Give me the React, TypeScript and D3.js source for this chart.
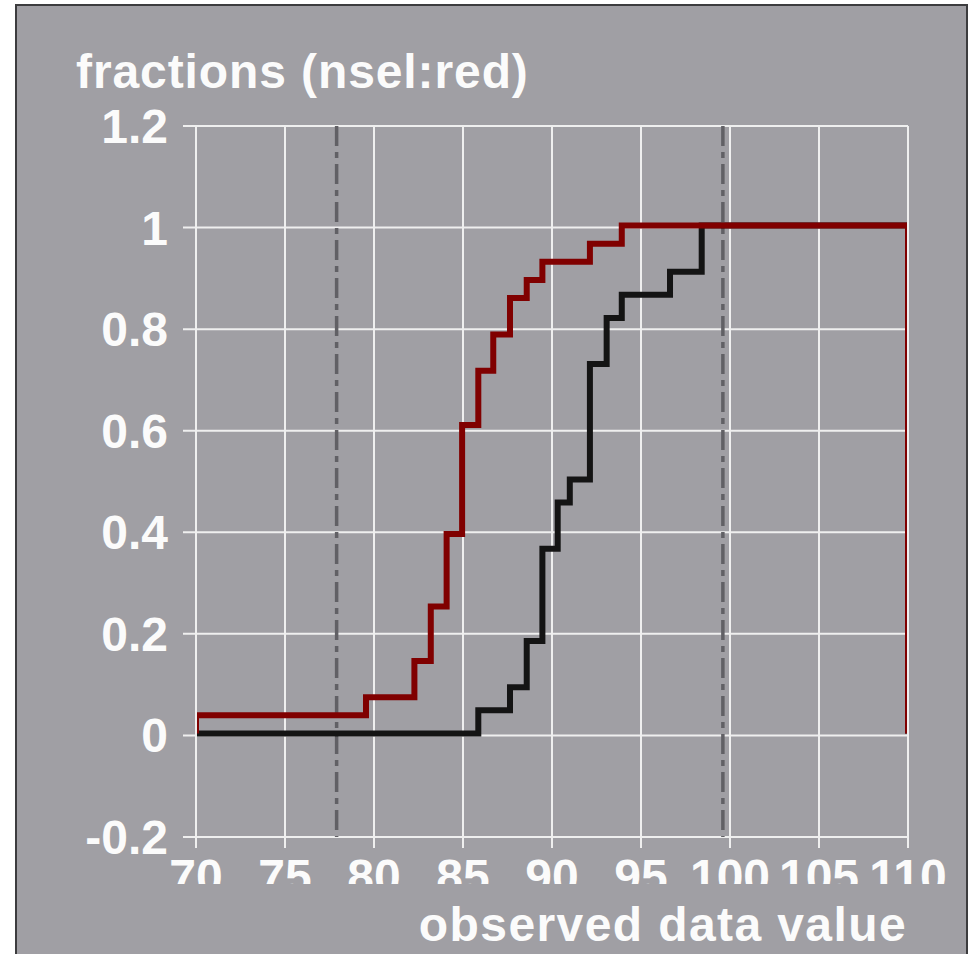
import React from "react";
import * as d3 from "d3";

// ---- data ----
const xTicks = [70, 75, 80, 85, 90, 95, 100, 105, 110];
const yTicks = [-0.2, 0, 0.2, 0.4, 0.6, 0.8, 1, 1.2];
const yTickLabels = ["-0.2", "0", "0.2", "0.4", "0.6", "0.8", "1", "1.2"];

const redN = 28;
const redStartCount = 1;
const redX = [79.55, 82.27, 83.19, 84.08, 84.95, 85.86, 86.7, 87.64, 88.58, 89.46, 92.13, 93.92];
const redCount = [2, 4, 7, 11, 17, 20, 22, 24, 25, 26, 27, 28];

const blackN = 22;
const blackStartCount = 0;
const blackX = [85.86, 87.64, 88.58, 89.46, 90.32, 91.0, 92.13, 93.07, 93.92, 96.63, 98.41];
const blackCount = [1, 2, 4, 8, 10, 11, 16, 18, 19, 20, 22];

const dashedX = [77.9, 99.6];

const titleText = "fractions (nsel:red)";
const xAxisTitle = "observed data value";

// ---- layout ----
const W = 970;
const H = 954;
const x = d3.scaleLinear().domain([70, 110]).range([196, 908]);
const y = d3.scaleLinear().domain([-0.2, 1.2]).range([837, 126]);

function buildSeries(xs: number[], counts: number[], n: number, start: number) {
  const pts: [number, number][] = [[70, 0], [70, start / n]];
  xs.forEach((v, i) => pts.push([v, counts[i] / n]));
  pts.push([110, 1]);
  pts.push([110, 0]);
  return pts;
}

const stepLine = d3
  .line<[number, number]>()
  .x((d) => x(d[0]))
  .y((d) => y(d[1]))
  .curve(d3.curveStepAfter);

const FONT = "'Liberation Sans', Arial, sans-serif";
const TXT = "#fbfbfb";
const GRID = "#efefef";

export default function App() {
  const redPts = buildSeries(redX, redCount, redN, redStartCount);
  const blackPts = buildSeries(blackX, blackCount, blackN, blackStartCount);
  const [x0, x1] = x.range();
  const [yb, yt] = y.range();
  return (
    <svg
      width={W}
      height={H}
      style={{ position: "absolute", left: 0, top: 0, display: "block" }}
    >
      <defs>
        <clipPath id="plotClip">
          <rect x={197} y={yt} width={907 - 197} height={yb - yt} />
        </clipPath>
        <clipPath id="xLabClip">
          <rect x={0} y={850} width={W} height={884 - 850} />
        </clipPath>
      </defs>
      <rect x={0} y={0} width={W} height={H} fill="#ffffff" />
      <rect x={16} y={5} width={951} height={H + 10} fill="#a09fa4" stroke="#3c3c3e" strokeWidth={2} />

      {/* grid */}
      {yTicks.map((t) => (
        <line key={"gy" + t} x1={x0 - 13} x2={x1} y1={y(t)} y2={y(t)} stroke={GRID} strokeWidth={2} />
      ))}
      {xTicks.map((t) => (
        <line key={"gx" + t} x1={x(t)} x2={x(t)} y1={yt} y2={yb + 11} stroke={GRID} strokeWidth={2} />
      ))}

      {/* dashed reference lines */}
      {dashedX.map((v) => (
        <line
          key={"d" + v}
          x1={x(v)}
          x2={x(v)}
          y1={yt}
          y2={yb}
          stroke="#616065"
          strokeWidth={3.5}
          strokeDasharray="20,6,6,6"
        />
      ))}

      {/* step curves */}
      <g clipPath="url(#plotClip)">
        <g transform="translate(0,-2)">
          <path d={stepLine(blackPts) || ""} fill="none" stroke="#141414" strokeWidth={6} strokeLinejoin="miter" />
          <path d={stepLine(redPts) || ""} fill="none" stroke="#800000" strokeWidth={6} strokeLinejoin="miter" />
        </g>
      </g>

      {/* y tick labels */}
      {yTicks.map((t, i) => (
        <text
          key={"yl" + t}
          x={168}
          y={y(t) + 17}
          textAnchor="end"
          fontFamily={FONT}
          fontWeight="bold"
          fontSize={48}
          fill={TXT}
        >
          {yTickLabels[i]}
        </text>
      ))}

      {/* x tick labels (clipped at bottom like reference) */}
      <g clipPath="url(#xLabClip)">
        {xTicks.map((t) => (
          <text
            key={"xl" + t}
            x={x(t)}
            y={893}
            textAnchor="middle"
            fontFamily={FONT}
            fontWeight="bold"
            fontSize={48}
            fill={TXT}
          >
            {String(t)}
          </text>
        ))}
      </g>

      {/* titles */}
      <text x={76} y={88} fontFamily={FONT} fontWeight="bold" fontSize={48} fill={TXT} letterSpacing={0.9}>
        {titleText}
      </text>
      <text
        x={907}
        y={941}
        textAnchor="end"
        fontFamily={FONT}
        fontWeight="bold"
        fontSize={48}
        fill={TXT}
        letterSpacing={1.4}
      >
        {xAxisTitle}
      </text>
    </svg>
  );
}
